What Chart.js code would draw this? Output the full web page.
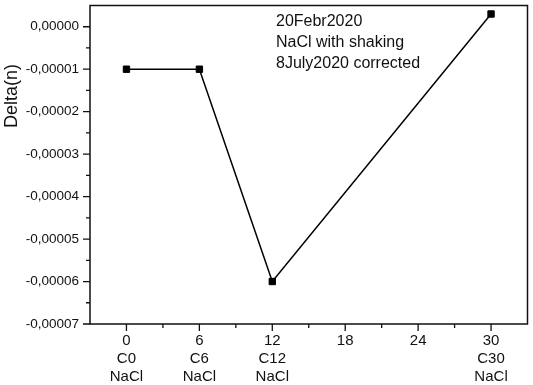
<!DOCTYPE html>
<html>
<head>
<meta charset="utf-8">
<script src="https://cdn.jsdelivr.net/npm/chart.js@4"></script>
<style>
    html, body { margin: 0; padding: 0; background: #fff; }
    #wrap { width: 533px; height: 385px; }
</style>
</head>
<body>
<div id="wrap"><canvas id="chart" width="533" height="385"></canvas></div>
<script>
// data
const xvals = [0, 6, 12, 30];
const yvals = [-0.00001, -0.00001, -0.00006, 0.000003];

const xTicks = [0, 6, 12, 18, 24, 30];
const xMinor = [3, 9, 15, 21, 27];
const xLabels = {
    0: ['0', 'C0', 'NaCl'],
    6: ['6', 'C6', 'NaCl'],
    12: ['12', 'C12', 'NaCl'],
    18: ['18'],
    24: ['24'],
    30: ['30', 'C30', 'NaCl']
};
const yTicks = [0, -0.00001, -0.00002, -0.00003, -0.00004, -0.00005, -0.00006, -0.00007];
const yMinor = [-0.000005, -0.000015, -0.000025, -0.000035, -0.000045, -0.000055, -0.000065];
const yTitle = 'Delta(n)';
const note = ['20Febr2020', 'NaCl with shaking', '8July2020 corrected'];

const FONT = '"Liberation Sans", Arial, sans-serif';

// frame, tick marks, axis title and the note in the corner
const framePlugin = {
    id: 'frame',
    afterDraw: (chart) => {
        const ctx = chart.ctx;
        const a = chart.chartArea;
        const xs = chart.scales.x;
        const ys = chart.scales.y;
        ctx.save();
        ctx.strokeStyle = '#111';
        ctx.lineWidth = 1.5;
        ctx.strokeRect(a.left, a.top, a.right - a.left, a.bottom - a.top);

        ctx.lineWidth = 1.3;
        ctx.beginPath();
        xTicks.forEach(v => {
            const px = xs.getPixelForValue(v);
            ctx.moveTo(px, a.bottom); ctx.lineTo(px, a.bottom + 7);
        });
        xMinor.forEach(v => {
            const px = xs.getPixelForValue(v);
            ctx.moveTo(px, a.bottom); ctx.lineTo(px, a.bottom + 4);
        });
        yTicks.forEach(v => {
            const py = ys.getPixelForValue(v);
            ctx.moveTo(a.left, py); ctx.lineTo(a.left - 7, py);
        });
        yMinor.forEach(v => {
            const py = ys.getPixelForValue(v);
            ctx.moveTo(a.left, py); ctx.lineTo(a.left - 4, py);
        });
        ctx.stroke();

        ctx.fillStyle = '#111';
        ctx.font = '18px ' + FONT;
        ctx.textAlign = 'center';
        ctx.textBaseline = 'middle';
        ctx.translate(12, 96);
        ctx.rotate(-Math.PI / 2);
        ctx.fillText(yTitle, 0, 0);
        ctx.restore();

        ctx.save();
        ctx.fillStyle = '#111';
        ctx.font = '16px ' + FONT;
        ctx.textAlign = 'left';
        ctx.textBaseline = 'middle';
        note.forEach((t, i) => ctx.fillText(t, 276, 22 + i * 21));
        ctx.restore();
    }
};

const ctx = document.getElementById('chart').getContext('2d');
const myChart = new Chart(ctx, {
    type: 'line',
    data: {
        datasets: [{
            data: xvals.map((x, i) => ({ x: x, y: yvals[i] })),
            borderColor: '#000',
            backgroundColor: '#000',
            borderWidth: 1.5,
            pointStyle: 'rect',
            pointRadius: 4.5,
            pointBorderWidth: 1,
            tension: 0,
            fill: false
        }]
    },
    options: {
        responsive: false,
        animation: false,
        events: [],
        layout: { padding: { top: 2, right: 3, left: 0, bottom: 0 } },
        plugins: {
            legend: { display: false },
            tooltip: { enabled: false }
        },
        scales: {
            x: {
                type: 'linear',
                min: -3,
                max: 33,
                afterBuildTicks: (scale) => { scale.ticks = xTicks.map(v => ({ value: v })); },
                afterFit: (scale) => {
                    scale.height = 61;
                    scale.paddingLeft = 0;
                    scale.paddingRight = 0;
                },
                grid: { display: false, drawTicks: false },
                border: { display: false },
                ticks: {
                    color: '#111',
                    font: { family: FONT, size: 15, lineHeight: 1.2 },
                    padding: 8,
                    maxRotation: 0,
                    autoSkip: false,
                    callback: (v) => xLabels[v] || ''
                }
            },
            y: {
                type: 'linear',
                min: -0.00007,
                max: 0.000005,
                afterBuildTicks: (scale) => { scale.ticks = yTicks.map(v => ({ value: v })); },
                afterFit: (scale) => {
                    scale.width = 90;
                    scale.paddingTop = 0;
                    scale.paddingBottom = 0;
                },
                grid: { display: false, drawTicks: false },
                border: { display: false },
                ticks: {
                    color: '#111',
                    font: { family: FONT, size: 13.5 },
                    padding: 11,
                    autoSkip: false,
                    callback: (v) => v.toFixed(5).replace('.', ',')
                }
            }
        }
    },
    plugins: [framePlugin]
});
</script>
</body>
</html>
